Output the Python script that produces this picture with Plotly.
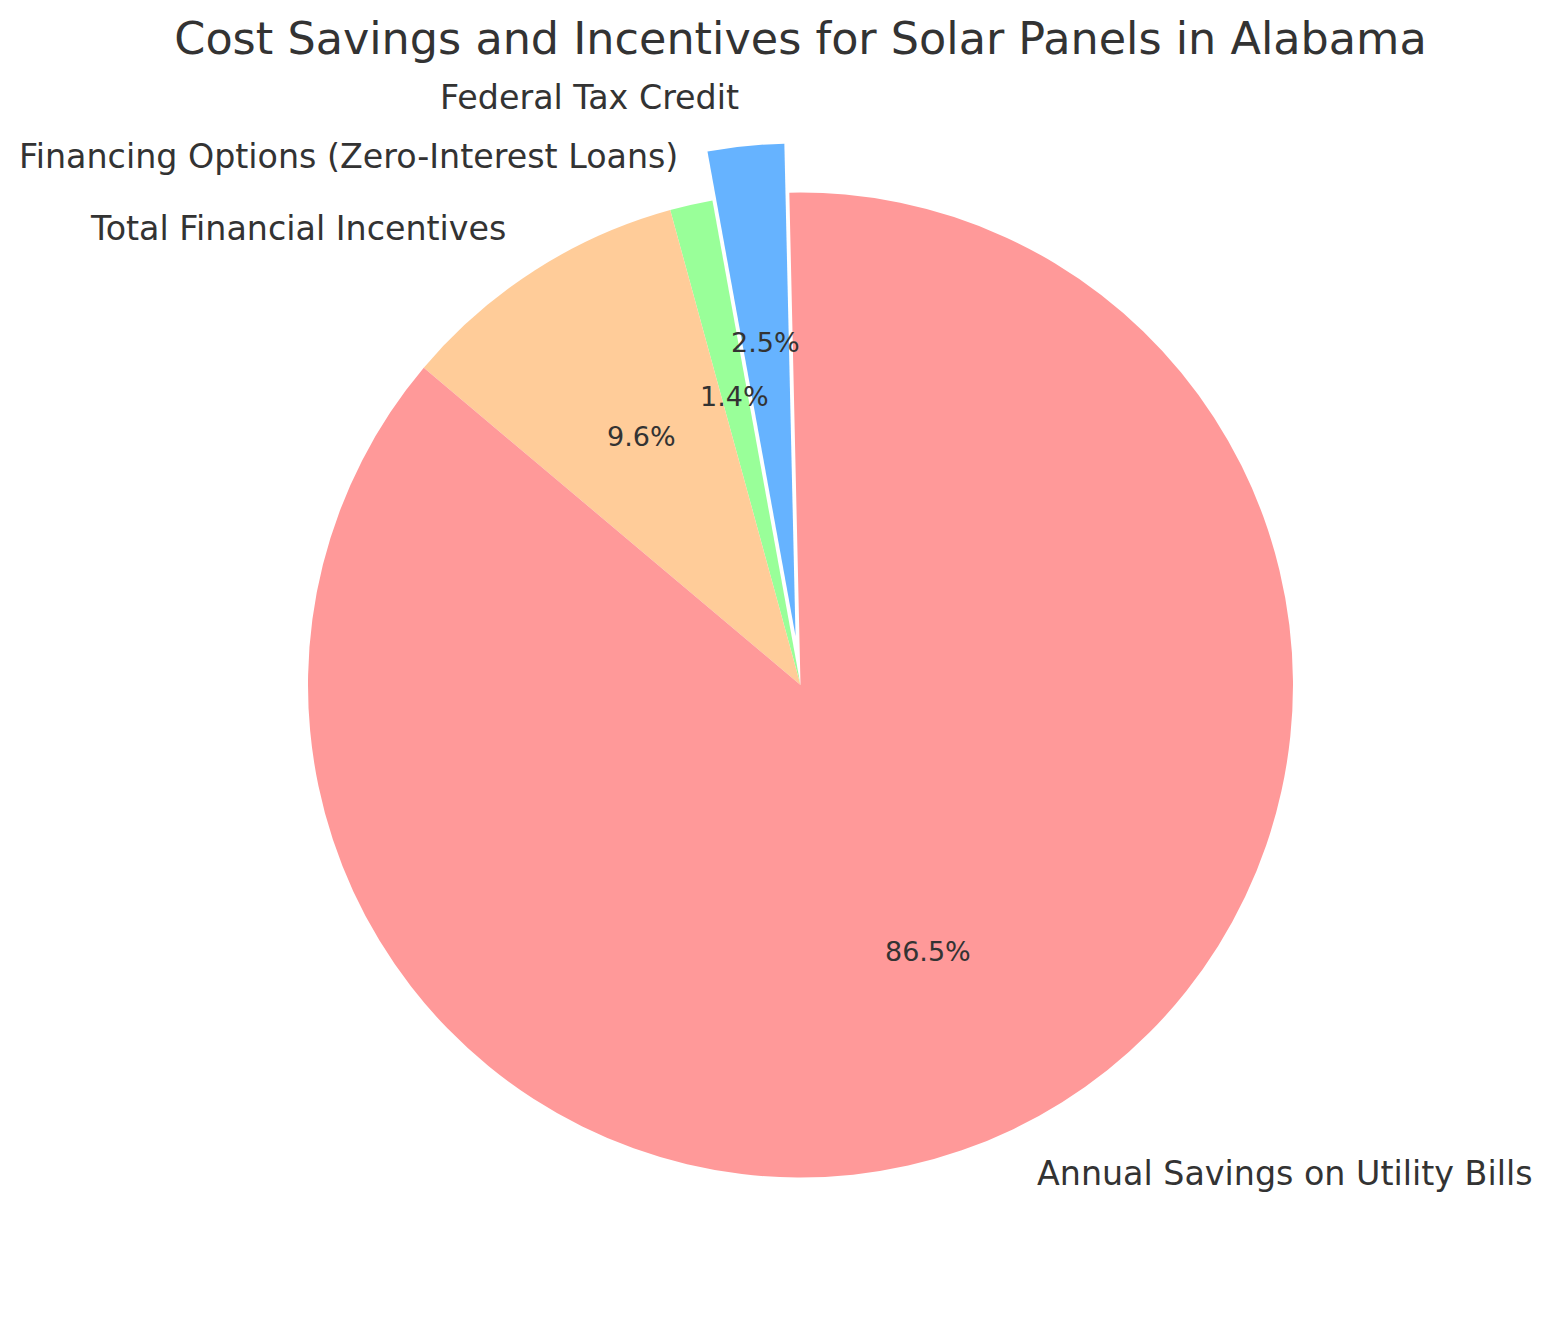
import numpy as np
import plotly.graph_objects as go

# ---- data ----
labels = [
    "Federal Tax Credit",
    "Financing Options (Zero-Interest Loans)",
    "Total Financial Incentives",
    "Annual Savings on Utility Bills",
]
values = [2.5, 1.4, 9.6, 86.5]
colors = ["#66B3FF", "#99FF99", "#FFCC99", "#FF9999"]
pulls = [0.1, 0.0, 0.0, 0.0]
title_text = "Cost Savings and Incentives for Solar Panels in Alabama"

# ---- style / layout geometry (pixels) ----
START_ANGLE = 91.3           # degrees, math convention, slices go counter-clockwise
W, H = 1543, 1314            # page body adds an 8px margin
PIE_CX, PIE_CY = 792.5, 677.0
PIE_RADIUS = 492.5
half = PIE_RADIUS * (1 + max(pulls))
PIE_L, PIE_R = PIE_CX - half - 10, PIE_CX + half + 10
PIE_T, PIE_B = PIE_CY - half, PIE_CY + half
radius_px = min(PIE_R - PIE_L, PIE_B - PIE_T) / 2 / (1 + max(pulls))

# cartesian axes spanning the whole figure, in units of the pie radius
x_range = [(0 - PIE_CX) / radius_px, (W - PIE_CX) / radius_px]
y_range = [(PIE_CY - H) / radius_px, (PIE_CY - 0) / radius_px]

# ---- label / percentage positions derived from the data (units of pie radius) ----
vals = np.array(values, dtype=float)
frac = vals / vals.sum()
start = START_ANGLE + 360 * np.concatenate([[0.0], np.cumsum(frac)[:-1]])
mid = np.deg2rad(start + 180 * frac)
pull_arr = np.array(pulls)
cx = pull_arr * np.cos(mid)
cy = pull_arr * np.sin(mid)
pct_x = cx + 0.6 * np.cos(mid)
pct_y = cy + 0.6 * np.sin(mid)
lab_x = cx + 1.1 * np.cos(mid)
lab_y = cy + 1.1 * np.sin(mid)
pct_text = [f"{f * 100:.1f}%" for f in frac]

FONT = "DejaVu Sans"
TXT = "#333333"

fig = go.Figure()
fig.add_trace(go.Pie(
    labels=labels,
    values=values,
    marker=dict(colors=colors, line=dict(width=0)),
    pull=pulls,
    sort=False,
    direction="counterclockwise",
    # plotly: counter-clockwise pies end their first slice at `rotation`
    rotation=-(360 * frac[0] + (START_ANGLE - 90)),
    textinfo="none",
    showlegend=False,
    domain=dict(x=[PIE_L / W, PIE_R / W], y=[1 - PIE_B / H, 1 - PIE_T / H]),
))
# invisible anchor points so the cartesian axes exist
fig.add_trace(go.Scatter(
    x=np.concatenate([pct_x, lab_x]), y=np.concatenate([pct_y, lab_y]),
    mode="markers", marker=dict(opacity=0, size=1),
    hoverinfo="skip", showlegend=False,
))

annotations = []
for x, y, t in zip(pct_x, pct_y, pct_text):
    annotations.append(dict(
        x=x, y=y, xref="x", yref="y", text=t, showarrow=False,
        xanchor="center", yanchor="middle",
        font=dict(family=FONT, size=27, color=TXT),
    ))
for x, y, t in zip(lab_x, lab_y, labels):
    annotations.append(dict(
        x=x, y=y, xref="x", yref="y", text=t, showarrow=False,
        xanchor="right" if x < 0 else "left", yanchor="middle",
        font=dict(family=FONT, size=33.3, color=TXT),
    ))

fig.update_layout(
    width=W, height=H,
    margin=dict(l=0, r=0, t=0, b=0, autoexpand=False),
    paper_bgcolor="white", plot_bgcolor="rgba(0,0,0,0)",
    font=dict(family=FONT, color=TXT),
    title=dict(
        text=title_text, x=PIE_CX / W, xref="paper", xanchor="center",
        y=1 - 30 / H, yref="container", yanchor="middle",
        font=dict(family=FONT, size=44.5, color=TXT),
    ),
    xaxis=dict(range=x_range, visible=False, fixedrange=True),
    yaxis=dict(range=y_range, visible=False, fixedrange=True),
    annotations=annotations,
)

fig.write_html("out.html")
